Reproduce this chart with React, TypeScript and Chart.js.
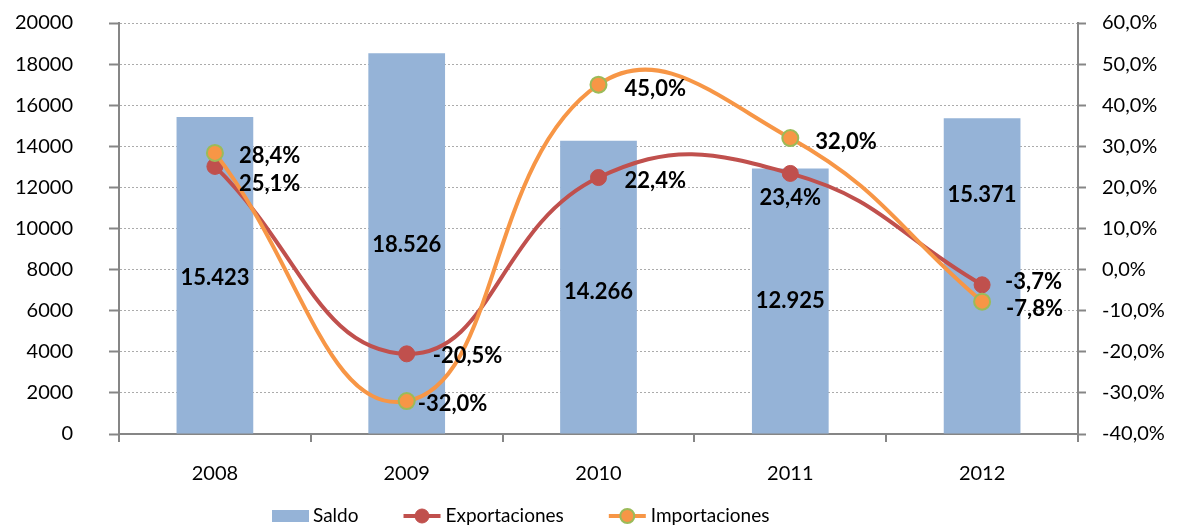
import React, { useEffect, useRef } from 'react';
import { Chart, registerables } from 'chart.js';

Chart.register(...registerables);

// ---- data ----
const categories = ['2008', '2009', '2010', '2011', '2012'];
const saldo = [15423, 18526, 14266, 12925, 15371];
const exportaciones = [25.1, -20.5, 22.4, 23.4, -3.7];
const importaciones = [28.4, -32.0, 45.0, 32.0, -7.8];
const seriesNames = ['Saldo', 'Exportaciones', 'Importaciones'];
const leftAxis = { min: 0, max: 20000, step: 2000 };
const rightAxis = { min: -40, max: 60, step: 10 };

// ---- style ----
const FONT = 'Lato, "DejaVu Sans", sans-serif';
const BAR_COLOR = '#95B3D7';
const EXP_COLOR = '#C0504D';
const IMP_COLOR = '#F79646';
const IMP_BORDER = '#9BBB59';
const AXIS_COLOR = '#868686';
const GRID_COLOR = '#ABABAB';
// vertical nudge of each bar label from the bar's middle
const barLabelNudge = [3, 2, 5, 0, -81];
// label placement [dx, dy, align] relative to each point
const exportLabelPlacement: [number, number, CanvasTextAlign][] = [
  [24, 17, 'left'], [26, 2, 'left'], [26, 3, 'left'], [0, 24, 'center'], [23, -3, 'left'],
];
const importLabelPlacement: [number, number, CanvasTextAlign][] = [
  [24, 3, 'left'], [11, 3, 'left'], [26, 4, 'left'], [25, 4, 'left'], [24, 7, 'left'],
];

const fmtThousands = (n: number) => String(n).replace(/\B(?=(\d{3})+(?!\d))/g, '.');
const fmtPct = (v: number) => v.toFixed(1).replace('.', ',') + '%';

const valueLabels = {
  id: 'valueLabels',
  afterDatasetsDraw(chart: any) {
    const ctx = chart.ctx as CanvasRenderingContext2D;
    ctx.save();
    ctx.font = `bold 22px ${FONT}`;
    ctx.fillStyle = '#000';
    ctx.textBaseline = 'middle';
    const barMeta = chart.getDatasetMeta(0);
    barMeta.data.forEach((bar: any, i: number) => {
      const { x, y, base } = bar.getProps(['x', 'y', 'base'], true);
      ctx.textAlign = 'center';
      ctx.fillText(fmtThousands(saldo[i]), x, (y + base) / 2 + barLabelNudge[i]);
    });
    const lines: [number, number[], [number, number, CanvasTextAlign][]][] = [
      [1, exportaciones, exportLabelPlacement],
      [2, importaciones, importLabelPlacement],
    ];
    lines.forEach(([idx, values, place]) => {
      const meta = chart.getDatasetMeta(idx);
      meta.data.forEach((pt: any, i: number) => {
        const [dx, dy, align] = place[i];
        ctx.textAlign = align;
        ctx.fillText(fmtPct(values[i]), pt.x + dx, pt.y + dy);
      });
    });
    ctx.restore();
  },
};

const customLegend = {
  id: 'customLegend',
  afterDraw(chart: any) {
    const ctx = chart.ctx as CanvasRenderingContext2D;
    ctx.save();
    ctx.font = `19px ${FONT}`;
    ctx.textBaseline = 'middle';
    ctx.textAlign = 'left';
    const cy = 516;
    let x = 272;
    const ds = chart.data.datasets;
    ctx.fillStyle = ds[0].backgroundColor;
    ctx.fillRect(x, cy - 6, 37, 12);
    x += 41;
    ctx.fillStyle = '#000';
    ctx.fillText(ds[0].label, x, cy);
    x += ctx.measureText(ds[0].label).width + 45;
    for (let i = 1; i < ds.length; i++) {
      const d = ds[i];
      ctx.strokeStyle = d.borderColor;
      ctx.lineWidth = 4;
      ctx.beginPath();
      ctx.moveTo(x, cy);
      ctx.lineTo(x + 37, cy);
      ctx.stroke();
      ctx.beginPath();
      ctx.arc(x + 18.5, cy, 7, 0, Math.PI * 2);
      ctx.fillStyle = d.pointBackgroundColor;
      ctx.fill();
      ctx.lineWidth = d.pointBorderWidth;
      ctx.strokeStyle = d.pointBorderColor;
      ctx.stroke();
      x += 42;
      ctx.fillStyle = '#000';
      ctx.fillText(d.label, x, cy);
      x += ctx.measureText(d.label).width + 45;
    }
    ctx.restore();
  },
};

export default function App() {
  const ref = useRef<HTMLCanvasElement | null>(null);
  useEffect(() => {
    if (!ref.current) return;
    const tickFont = { family: FONT, size: 20 };
    const chart = new Chart(ref.current, {
      type: 'bar',
      data: {
        labels: categories,
        datasets: [
          {
            type: 'bar',
            label: seriesNames[0],
            data: saldo,
            backgroundColor: BAR_COLOR,
            barPercentage: 0.4,
            categoryPercentage: 1.0,
            yAxisID: 'y',
            order: 2,
          } as any,
          {
            type: 'line',
            label: seriesNames[1],
            data: exportaciones,
            borderColor: EXP_COLOR,
            borderWidth: 4,
            tension: 0.45,
            pointRadius: 8,
            pointBackgroundColor: EXP_COLOR,
            pointBorderColor: EXP_COLOR,
            pointBorderWidth: 1,
            yAxisID: 'y1',
            order: 1,
          },
          {
            type: 'line',
            label: seriesNames[2],
            data: importaciones,
            borderColor: IMP_COLOR,
            borderWidth: 4,
            tension: 0.45,
            pointRadius: 8,
            pointBackgroundColor: IMP_COLOR,
            pointBorderColor: IMP_BORDER,
            pointBorderWidth: 2,
            yAxisID: 'y1',
            order: 0,
          },
        ],
      },
      options: {
        responsive: false,
        animation: false,
        layout: { padding: { top: 23, left: 0, right: 0, bottom: 0 } },
        plugins: {
          legend: { display: false },
          title: { display: false },
          tooltip: { enabled: false },
        },
        scales: {
          x: {
            grid: {
              display: true,
              offset: true,
              drawOnChartArea: false,
              drawTicks: true,
              tickLength: 8,
              color: AXIS_COLOR,
              lineWidth: 2,
            },
            border: { display: true, color: AXIS_COLOR, width: 2 },
            ticks: { font: tickFont, color: '#000', padding: 20 },
            afterFit: (s: any) => { s.height = 95; s.paddingTop = 0; s.paddingBottom = 0; },
          },
          y: {
            position: 'left',
            min: leftAxis.min,
            max: leftAxis.max,
            ticks: {
              stepSize: leftAxis.step,
              font: tickFont,
              color: '#000',
              padding: 36,
              callback: (v: any) => String(v),
            },
            grid: {
              color: GRID_COLOR,
              lineWidth: 1,
              tickColor: AXIS_COLOR,
              tickLength: 10,
              tickWidth: 2,
              tickBorderDash: [],
            } as any,
            border: { color: AXIS_COLOR, width: 2, dash: [2, 2] },
            afterFit: (s: any) => { s.width = 119; s.paddingTop = 0; s.paddingBottom = 0; },
          },
          y1: {
            position: 'right',
            min: rightAxis.min,
            max: rightAxis.max,
            ticks: {
              stepSize: rightAxis.step,
              font: tickFont,
              color: '#000',
              padding: 16,
              callback: (v: any) => fmtPct(Number(v)),
            },
            grid: {
              drawOnChartArea: false,
              tickColor: AXIS_COLOR,
              tickLength: 8,
              tickWidth: 2,
            } as any,
            border: { color: AXIS_COLOR, width: 2 },
            afterFit: (s: any) => { s.width = 101; s.paddingTop = 0; s.paddingBottom = 0; },
          },
        },
      },
      plugins: [valueLabels, customLegend],
    } as any);
    return () => chart.destroy();
  }, []);
  return (
    <div style={{ position: 'absolute', left: 0, top: 0, width: 1179, height: 529, background: '#fff' }}>
      <canvas ref={ref} width={1179} height={529} />
    </div>
  );
}
